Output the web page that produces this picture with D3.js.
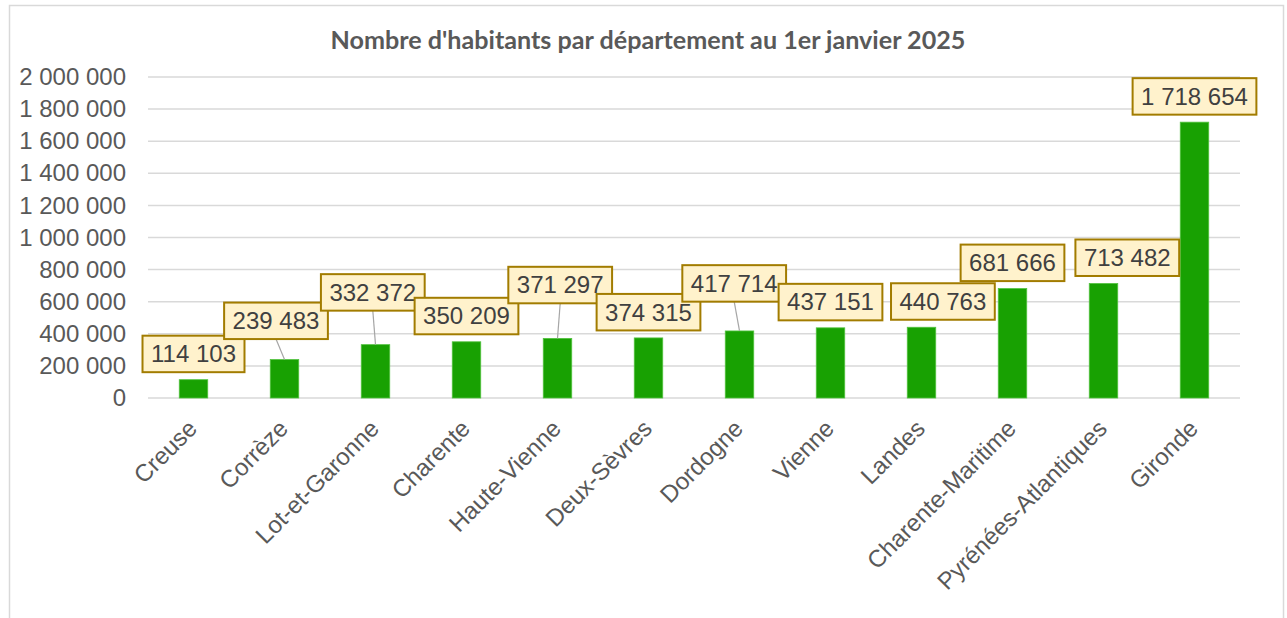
<!DOCTYPE html>
<html lang="fr">
<head>
<meta charset="UTF-8">
<title>Nombre d'habitants par département</title>
<style>
body { margin: 0; background: #fff; }
svg { display: block; }
</style>
</head>
<body>
<svg width="1287" height="618"></svg>
<script src="https://cdn.jsdelivr.net/npm/d3@7"></script>
<script>

// data
var departements = ["Creuse", "Corrèze", "Lot-et-Garonne", "Charente", "Haute-Vienne", "Deux-Sèvres",
    "Dordogne", "Vienne", "Landes", "Charente-Maritime", "Pyrénées-Atlantiques", "Gironde"];
var habitants = [114103, 239483, 332372, 350209, 371297, 374315, 417714, 437151, 440763, 681666, 713482, 1718654];
var yTicks = [0, 200000, 400000, 600000, 800000, 1000000, 1200000, 1400000, 1600000, 1800000, 2000000];
var titre = "Nombre d'habitants par département au 1er janvier 2025";

// hand moved data labels (pixels, like in the spreadsheet)
var labelNudge = [[0, 0], [-8.5, -13], [-2.7, -26.5], [0, 0], [2.7, -27.6], [0, 0],
    [-5.3, -21.8], [0, 0], [21.4, 0], [0, 0], [23.8, 0], [0, 0]];

var FONT = "'Liberation Sans', Arial, Helvetica, sans-serif";

var svg = d3.select("svg");
var plot = {left: 148, right: 1240, top: 77, bottom: 398};

var fr = d3.formatLocale({decimal: ",", thousands: " ", grouping: [3], currency: ["", " €"]});
var fmt = fr.format(",d");

// chart frame
svg.append("rect")
    .attr("x", 9.5).attr("y", 5.5)
    .attr("width", 1274).attr("height", 700)
    .attr("fill", "#fff").attr("stroke", "#d9d9d9").attr("stroke-width", 1.5);

var x = d3.scaleBand()
    .domain(departements)
    .range([plot.left, plot.right])
    .paddingInner(0.687)
    .paddingOuter(0.3435);

var y = d3.scaleLinear()
    .domain([0, 2000000])
    .range([plot.bottom, plot.top]);

// gridlines
svg.append("g")
    .selectAll("line")
    .data(yTicks)
    .enter()
    .append("line")
    .attr("x1", plot.left).attr("x2", plot.right)
    .attr("y1", function(d) { return y(d); })
    .attr("y2", function(d) { return y(d); })
    .attr("stroke", "#d9d9d9")
    .attr("stroke-width", 1.5);

var yAxis = d3.axisLeft(y)
    .tickValues(yTicks)
    .tickFormat(fmt)
    .tickSize(0)
    .tickPadding(22);

svg.append("g")
    .attr("transform", "translate(" + plot.left + ",0)")
    .call(yAxis)
    .attr("font-family", FONT)
    .attr("font-size", 24)
    .call(function(g) {
        g.select(".domain").remove();
        g.selectAll("text").attr("fill", "#595959");
    });

// bars
svg.append("g")
    .selectAll("rect")
    .data(habitants)
    .enter()
    .append("rect")
    .attr("x", function(d, i) { return x(departements[i]); })
    .attr("y", function(d) { return y(d); })
    .attr("width", x.bandwidth())
    .attr("height", function(d) { return y(0) - y(d); })
    .attr("fill", "#18a102")
    .attr("stroke", "#52c23f")
    .attr("stroke-width", 0.8);

// category labels
svg.append("g")
    .attr("font-family", FONT)
    .selectAll("text")
    .data(departements)
    .enter()
    .append("text")
    .attr("transform", function(d) {
        return "translate(" + (x(d) + x.bandwidth() / 2 - 7) + "," + (plot.bottom + 20) + ") rotate(-45)";
    })
    .attr("text-anchor", "end")
    .attr("dy", "0.71em")
    .attr("fill", "#595959")
    .attr("font-size", 24)
    .text(function(d) { return d; });

// data labels
var labels = svg.append("g")
    .attr("font-family", FONT)
    .selectAll("g")
    .data(habitants)
    .enter()
    .append("g");

labels.each(function(d, i) {
    var g = d3.select(this);
    var cx = x(departements[i]) + x.bandwidth() / 2;
    var barTop = y(d);
    var bx = cx + labelNudge[i][0];
    var bottom = barTop - 7.5 + labelNudge[i][1];
    var h = 36.5;

    if (labelNudge[i][1] < -10) {
        g.append("line")
            .attr("x1", bx).attr("y1", bottom)
            .attr("x2", cx).attr("y2", barTop)
            .attr("stroke", "#a6a6a6")
            .attr("stroke-width", 1.2);
    }

    var box = g.append("rect");
    var t = g.append("text")
        .attr("x", bx)
        .attr("y", bottom - h / 2)
        .attr("dy", "0.35em")
        .attr("text-anchor", "middle")
        .attr("font-size", 24)
        .attr("fill", "#404040")
        .text(fmt(d));
    var w = t.node().getComputedTextLength() + 17;
    box.attr("x", bx - w / 2).attr("y", bottom - h)
        .attr("width", w).attr("height", h)
        .attr("fill", "#fff2cc")
        .attr("stroke", "#a27c00")
        .attr("stroke-width", 2);
});

// title
var title = svg.append("text")
    .attr("x", 648)
    .attr("y", 48.5)
    .attr("text-anchor", "middle")
    .attr("font-family", "Lato, 'Open Sans', sans-serif")
    .attr("font-weight", "bold")
    .attr("font-size", 22)
    .attr("fill", "#595959")
    .text(titre);

var tw = title.node().getComputedTextLength();
title.attr("font-size", 22 * 635 / tw);

</script>
</body>
</html>
